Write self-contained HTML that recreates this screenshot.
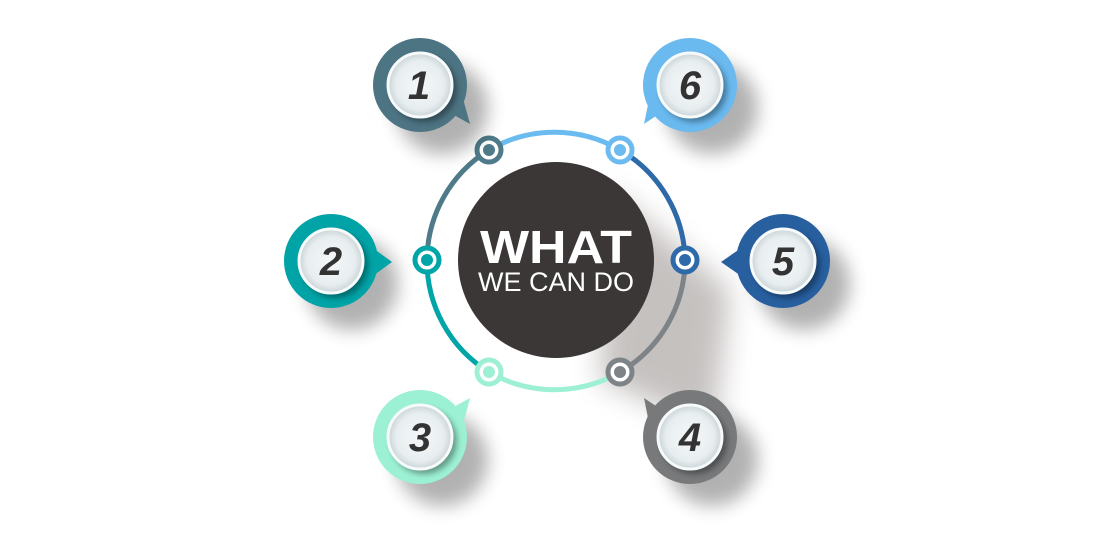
<!DOCTYPE html>
<html><head><meta charset="utf-8"><style>
html,body{margin:0;padding:0;background:#fff;}
svg{display:block;}
</style></head><body>
<svg width="1102" height="535" viewBox="0 0 1102 535" xmlns="http://www.w3.org/2000/svg">
<defs>
<filter id="sh" x="-50%" y="-50%" width="200%" height="200%"><feGaussianBlur stdDeviation="9"/></filter>
<filter id="sh3" x="-50%" y="-50%" width="200%" height="200%"><feGaussianBlur stdDeviation="14"/></filter>
<filter id="sh2" x="-50%" y="-50%" width="200%" height="200%"><feGaussianBlur stdDeviation="3"/></filter>
<radialGradient id="inner" cx="50%" cy="50%" r="50%">
<stop offset="0" stop-color="#f4f7f8"/><stop offset="0.75" stop-color="#e8eef0"/><stop offset="1" stop-color="#c9d3d6"/>
</radialGradient>
</defs>

<!-- center shadow -->
<path d="M610,190 L730,290 L715,430 L600,380 Z" fill="#5a4f4c" opacity="0.35" filter="url(#sh3)"/>

<!-- ring arcs -->
<g fill="none" stroke-width="5">
<path d="M489,150 A130,130 0 0 1 620,150" stroke="#6cbbf0"/>
<path d="M620,150 A130,130 0 0 1 685,260" stroke="#2e6aa8"/>
<path d="M685,260 A130,130 0 0 1 620,372" stroke="#7d8386"/>
<path d="M620,372 A130,130 0 0 1 489,372" stroke="#9ef0d4"/>
<path d="M489,372 A130,130 0 0 1 427,260" stroke="#00a5a8"/>
<path d="M427,260 A130,130 0 0 1 489,150" stroke="#4e7a89"/>
</g>

<!-- center circle -->
<circle cx="556" cy="260" r="98" fill="#3b3736"/>
<text x="556" y="263" text-anchor="middle" font-family="Liberation Sans, sans-serif" font-weight="bold" font-size="46" fill="#fff" textLength="152" lengthAdjust="spacingAndGlyphs">WHAT</text>
<text x="556" y="291" text-anchor="middle" font-family="Liberation Sans, sans-serif" font-size="27" fill="#fff" textLength="156" lengthAdjust="spacingAndGlyphs">WE CAN DO</text>

<!-- dots -->
<g stroke-width="5" fill="#fff">
<circle cx="489" cy="150" r="12" stroke="#4e7a89"/><circle cx="489" cy="150" r="6" fill="#4e7a89" stroke="none"/>
<circle cx="620" cy="150" r="12" stroke="#6cbbf0"/><circle cx="620" cy="150" r="6" fill="#6cbbf0" stroke="none"/>
<circle cx="685" cy="260" r="12" stroke="#2e6aa8"/><circle cx="685" cy="260" r="6" fill="#2e6aa8" stroke="none"/>
<circle cx="620" cy="372" r="12" stroke="#7d8386"/><circle cx="620" cy="372" r="6" fill="#7d8386" stroke="none"/>
<circle cx="489" cy="372" r="12" stroke="#9ef0d4"/><circle cx="489" cy="372" r="6" fill="#9ef0d4" stroke="none"/>
<circle cx="427" cy="260" r="12" stroke="#00a5a8"/><circle cx="427" cy="260" r="6" fill="#00a5a8" stroke="none"/>
</g>

<!-- bubbles -->
<g font-family="Liberation Sans, sans-serif" font-weight="bold" font-style="italic" font-size="40" text-anchor="middle" fill="#333">
<!-- 1 -->
<circle cx="442" cy="108" r="46" fill="#000" opacity="0.3" filter="url(#sh)"/>
<circle cx="420" cy="85" r="47" fill="#4d7483"/><path d="M445,110 L470,124 L462,95 Z" fill="#4d7483"/>
<circle cx="424" cy="89" r="33" fill="#000" opacity="0.35" filter="url(#sh2)"/>
<circle cx="420" cy="85" r="32" fill="url(#inner)" stroke="#f7fafa" stroke-width="3"/>
<text x="419" y="99">1</text>
<!-- 6 -->
<circle cx="712" cy="108" r="46" fill="#000" opacity="0.3" filter="url(#sh)"/>
<circle cx="690" cy="85" r="47" fill="#6ab9ef"/><path d="M665,110 L644,124 L650,95 Z" fill="#6ab9ef"/>
<circle cx="694" cy="89" r="33" fill="#000" opacity="0.35" filter="url(#sh2)"/>
<circle cx="690" cy="85" r="32" fill="url(#inner)" stroke="#f7fafa" stroke-width="3"/>
<text x="690" y="99">6</text>
<!-- 2 -->
<circle cx="352" cy="284" r="46" fill="#000" opacity="0.3" filter="url(#sh)"/>
<circle cx="331" cy="261" r="47" fill="#00a3a6"/><path d="M370,246 L392,262 L370,278 Z" fill="#00a3a6"/>
<circle cx="335" cy="265" r="33" fill="#000" opacity="0.35" filter="url(#sh2)"/>
<circle cx="331" cy="261" r="32" fill="url(#inner)" stroke="#f7fafa" stroke-width="3"/>
<text x="331" y="275">2</text>
<!-- 5 -->
<circle cx="804" cy="284" r="46" fill="#000" opacity="0.3" filter="url(#sh)"/>
<circle cx="783" cy="261" r="47" fill="#275f9f"/><path d="M744,246 L721,262 L744,278 Z" fill="#275f9f"/>
<circle cx="787" cy="265" r="33" fill="#000" opacity="0.35" filter="url(#sh2)"/>
<circle cx="783" cy="261" r="32" fill="url(#inner)" stroke="#f7fafa" stroke-width="3"/>
<text x="783" y="275">5</text>
<!-- 3 -->
<circle cx="442" cy="460" r="46" fill="#000" opacity="0.3" filter="url(#sh)"/>
<circle cx="420" cy="437" r="47" fill="#9cf0d3"/><path d="M445,412 L470,398 L462,428 Z" fill="#9cf0d3"/>
<circle cx="424" cy="441" r="33" fill="#000" opacity="0.35" filter="url(#sh2)"/>
<circle cx="420" cy="437" r="32" fill="url(#inner)" stroke="#f7fafa" stroke-width="3"/>
<text x="420" y="451">3</text>
<!-- 4 -->
<circle cx="712" cy="460" r="46" fill="#000" opacity="0.3" filter="url(#sh)"/>
<circle cx="690" cy="437" r="47" fill="#77797b"/><path d="M665,412 L644,398 L650,428 Z" fill="#77797b"/>
<circle cx="694" cy="441" r="33" fill="#000" opacity="0.35" filter="url(#sh2)"/>
<circle cx="690" cy="437" r="32" fill="url(#inner)" stroke="#f7fafa" stroke-width="3"/>
<text x="690" y="451">4</text>
</g>
</svg>
</body></html>
